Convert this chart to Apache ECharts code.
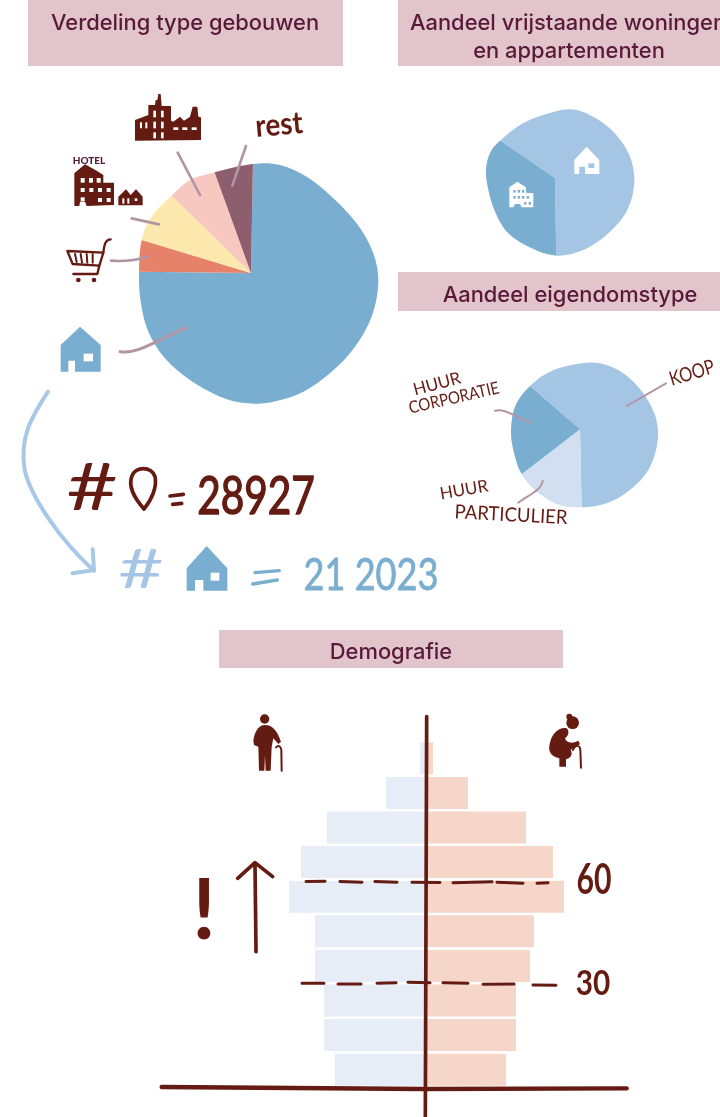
<!DOCTYPE html>
<html><head><meta charset="utf-8">
<style>html,body{margin:0;padding:0;background:#fff}#c{width:720px;height:1117px}</style>
<script src="https://cdn.jsdelivr.net/npm/echarts@6/dist/echarts.min.js"></script>
</head><body><div id="c"></div>
<script>
// ---------- data ----------
const buildingTypes = ['wonen', 'winkel', 'hotel', 'industrie', 'rest'];
const buildingShare = [74.9, 4.5, 7.6, 7.2, 5.8];
const housingTypes = ['vrijstaande woningen', 'appartementen'];
const housingShare = [65.2, 34.8];
const ownerTypes = ['koop', 'huur particulier', 'huur corporatie'];
const ownerShare = [63.3, 14.9, 21.8];
const ageGroups = ['0-9','10-19','20-29','30-39','40-49','50-59','60-69','70-79','80-89','90+'];
const menShare = [-9.1, -10.2, -10.2, -11.1, -11.1, -13.7, -12.5, -9.9, -4.0, -0.6];
const womenShare = [8.0, 9.0, 9.0, 10.4, 10.8, 13.8, 12.7, 10.0, 4.2, 0.7];
const dashes60 = [[-12,59.4],[-10.1,59.5],null,[-8.6,59.4],[-6.4,59.2],null,[-5.1,59.4],[-2.9,59.2],null,[-1.4,59.2],[1.4,59.1],null,[2.7,59],[6.6,59.3],null,[7.1,59.2],[9.7,58.9],null,[11.1,58.9],[12.2,59]];
const dashes30 = [[-12.4,30],[-10.2,30],null,[-8.8,29.8],[-6.5,29.8],null,[-4.9,30],[-3,30.1],null,[-1.8,30.3],[0.4,30.1],null,[1.7,30.1],[4.2,30],null,[5.7,29.7],[8.8,29.8],null,[10.7,29.5],[13,29.4]];

// ---------- hand-drawn outlines of the pies (zoomed drawing units) ----------
const outlineBuildings = [[637,252],[720,255],[800,290],[875,350],[950,430],[1000,520],[1015,610],[995,710],[945,800],[875,875],[790,935],[700,965],[620,970],[540,950],[450,900],[375,835],[325,755],[302,665],[297,575],[305,480],[335,410],[397,345],[450,300],[520,278]];
const outlineHousing = [[300,122],[360,75],[430,45],[510,28],[575,48],[640,95],[688,165],[703,245],[682,330],[625,400],[550,450],[470,467],[395,445],[325,400],[285,335],[264,265],[258,205],[272,155]];
const outlineOwner = [[390,858],[450,815],[530,792],[600,790],[670,820],[730,880],[768,955],[772,1030],[745,1110],[690,1170],[620,1210],[545,1222],[470,1212],[405,1170],[365,1122],[345,1070],[333,1000],[345,920]];

const DARK = '#641b12', PLUM = '#58193a', BLUE = '#7aaed0', LIGHT = '#a5c5e4', LEAD = '#b295a5', BAND = '#e2c4cb';

function blob(pts, ox, oy) {
  const n = pts.length, P = pts.map(p => [(p[0] / 3) + ox, (p[1] / 3) + oy]);
  let d = 'M' + P[0][0] + ' ' + P[0][1];
  for (let i = 0; i < n; i++) {
    const a = P[(i - 1 + n) % n], b = P[i], c = P[(i + 1) % n], e = P[(i + 2) % n];
    d += ' C' + (b[0] + (c[0] - a[0]) / 6) + ' ' + (b[1] + (c[1] - a[1]) / 6) + ' ' + (c[0] - (e[0] - b[0]) / 6) + ' ' + (c[1] - (e[1] - b[1]) / 6) + ' ' + c[0] + ' ' + c[1];
  }
  return d + ' Z';
}
function square(cx, cy, r) {
  return 'M' + (cx - r) + ' ' + (cy - r) + ' L' + (cx - r) + ' ' + (cy + r) + ' L' + (cx + r) + ' ' + (cy + r) + ' L' + (cx + r) + ' ' + (cy - r) + ' Z ';
}
const mask = (apex, r, pts, ox, oy) => ({ type: 'path', shape: { pathData: square(apex[0], apex[1], r) + blob(pts, ox, oy) }, style: { fill: '#fff' } });

const fillP = (d, fill) => ({ type: 'path', shape: { pathData: d }, style: { fill: fill } });
const line = (d, stroke, w) => ({ type: 'path', shape: { pathData: d }, style: { fill: 'none', stroke: stroke, lineWidth: w, lineCap: 'round', lineJoin: 'round' } });
const rect = (x, y, w, h, fill) => ({ type: 'rect', shape: { x, y, width: w, height: h }, style: { fill } });
const circ = (cx, cy, r, fill) => ({ type: 'circle', shape: { cx, cy, r }, style: { fill } });
const layer = (ox, oy, children) => ({ type: 'group', x: ox, y: oy, scaleX: 1 / 3, scaleY: 1 / 3, children });

function houseIcon() { return [
  fillP('M62 795 L120 740 L182 795 L182 875 L105 875 L105 842 L85 842 L85 875 L62 875 Z', BLUE),
  rect(131, 821, 28, 23, '#fff')
]; }

const layerMain = layer(40, 80, [
  // factory
  fillP('M285 182 L285 120 L325 105 L325 75 L345 75 L347 60 L352 60 L355 42 L362 42 L365 78 L393 78 L393 122 L400 125 L420 110 L432 122 L450 110 L458 80 L472 80 L475 110 L483 112 L483 180 Z', DARK),
  rect(340,92,8,20,'#fff'), rect(363,92,8,20,'#fff'), rect(340,125,8,20,'#fff'), rect(363,125,8,20,'#fff'), rect(340,157,8,18,'#fff'), rect(363,157,8,18,'#fff'),
  rect(300,127,6,18,'#fff'), rect(316,127,6,18,'#fff'), rect(400,142,15,8,'#fff'), rect(427,142,15,8,'#fff'), rect(455,142,15,8,'#fff'),
  // hotel
  fillP('M103 378 L103 280 L135 253 L170 272 L190 285 L190 308 L222 308 L222 375 L140 378 L135 365 L120 365 L118 378 Z', DARK),
  rect(122,294,12,14,'#fff'), rect(147,294,12,14,'#fff'), rect(170,294,12,14,'#fff'),
  rect(122,324,12,12,'#fff'), rect(148,324,12,12,'#fff'), rect(174,324,12,12,'#fff'), rect(200,324,12,12,'#fff'),
  rect(122,352,12,12,'#fff'), rect(174,354,12,12,'#fff'), rect(200,354,12,12,'#fff'),
  fillP('M235 376 L235 350 L258 328 L272 345 L288 328 L308 350 L308 376 Z', DARK),
  rect(247,355,6,16,'#fff'), rect(262,355,6,16,'#fff'), rect(284,355,8,8,'#fff'),
  // cart
  line('M82 513 L190 518 L178 557 L98 552 Z', DARK, 7),
  line('M105 522 L110 546 M122 522 L126 548 M140 522 L142 548 M158 522 L158 548', DARK, 6),
  line('M190 518 C193 490 198 478 212 478 M178 557 L172 582 L100 582', DARK, 7),
  circ(115, 600, 7, DARK), circ(162, 600, 7, DARK),
  // house
  ...houseIcon(),
  // leader lines
  line('M618 198 L577 317', LEAD, 8),
  line('M413 218 L480 345', LEAD, 8),
  line('M275 415 L357 433', LEAD, 8),
  line('M213 542 C250 545 290 540 325 530', LEAD, 8),
  line('M240 815 C290 825 350 780 440 743', LEAD, 9),
]);

const layerPies = layer(400, 100, [
  fillP('M523 180 L560 140 L598 180 L598 222 L555 222 L555 200 L538 200 L538 222 L523 222 Z', '#fff'),
  rect(565, 190, 18, 14, LIGHT),
  fillP('M328 322 L328 262 L352 245 L378 262 L378 278 L400 280 L400 322 L365 322 L360 312 L345 312 L340 322 Z', '#fff'),
  ...[340,353,366].map(x => rect(x, 270, 7, 8, BLUE)),
  ...[340,353,366,380].map(x => rect(x, 288, 7, 8, BLUE)),
  ...[372,386].map(x => rect(x, 306, 7, 8, BLUE)),
  line('M798 850 L680 918', LEAD, 6),
  line('M285 932 C310 925 340 945 392 968', LEAD, 6),
  line('M428 1143 C425 1170 385 1185 355 1208', LEAD, 6),
]);

const layerCounts = layer(20, 440, [
  // arrow
  line('M84 -145 C35 -70 -2 -10 14 90 C32 170 120 300 222 392', '#a8c8e8', 12),
  line('M158 400 L222 390 L218 328', '#a8c8e8', 12),
  // pin
  line('M372 207 C340 170 325 140 335 110 C345 78 395 78 405 110 C412 140 395 180 372 207 Z', DARK, 11),
  // = signs
  line('M450 168 L490 163 M458 193 L485 190', DARK, 11),
  line('M698 432 L772 420 M705 398 L778 392', BLUE, 10),
  // house
  fillP('M500 385 L560 318 L622 385 L622 452 L550 452 L550 420 L525 420 L525 452 L500 452 Z', BLUE),
  rect(572, 398, 26, 24, '#fff'),
]);

const layerDemo = layer(150, 700, [
  // axes
  line('M35 1161 L820 1167 L1430 1165', DARK, 13),
  line('M830 50 L826 1250', DARK, 11),
  // arrow up
  line('M318 755 L315 490 M263 535 L315 488 L368 530', DARK, 11),
  // man
  circ(344, 57, 14, DARK),
  fillP('M310 122 C315 88 330 75 345 75 C365 75 380 88 393 125 L385 132 L370 115 L365 140 L362 212 L347 212 L345 165 L343 212 L327 212 L325 140 L312 135 Z', DARK),
  line('M378 142 C385 135 393 138 394 150 L395 212', DARK, 6),
  // woman
  circ(1268, 68, 19, DARK), circ(1258, 50, 9, DARK),
  fillP('M1198 138 C1203 100 1228 80 1250 85 C1260 95 1255 108 1245 115 C1250 132 1270 130 1285 122 L1290 133 C1270 145 1262 148 1262 150 C1270 165 1260 175 1248 178 L1248 200 L1228 200 L1228 175 C1205 170 1195 155 1198 138 Z', DARK),
  line('M1268 150 C1277 132 1290 135 1291 150 L1293 203', DARK, 6),
]);

// ---------- text ----------
const TITLE = 'Inter, sans-serif', HAND = 'Lato, sans-serif';
function T(text, x, y, size, fill, o) {
  o = o || {};
  const style = { text, fill, font: (o.weight || 400) + ' ' + size + 'px ' + (o.font || HAND), textAlign: o.align || 'center', textVerticalAlign: 'middle', align: o.align || 'center', verticalAlign: 'middle' };
  if (o.bold) { style.stroke = fill; style.lineWidth = o.bold; }
  return { type: 'text', x, y, z: 100, rotation: (o.rot || 0) * Math.PI / 180, scaleX: o.sx || 1, silent: true, style };
}
const B = (x, y, w, h) => ({ type: 'rect', z: 99, silent: true, shape: { x, y, width: w, height: h }, style: { fill: BAND } });

const texts = [
  B(28, 0, 315, 66), B(398, 0, 322, 66), B(398, 272, 322, 39), B(219, 630, 344, 38),
  T('Verdeling type gebouwen', 185, 23, 21.9, PLUM, { font: TITLE, weight: 500 }),
  T('Aandeel vrijstaande woningen', 410, 23, 21.9, PLUM, { font: TITLE, align: 'left', weight: 500 }),
  T('en appartementen', 569, 51, 21.9, PLUM, { font: TITLE, weight: 500 }),
  T('Aandeel eigendomstype', 570, 295, 21.9, PLUM, { font: TITLE, weight: 500 }),
  T('Demografie', 391, 652, 21.9, PLUM, { font: TITLE, weight: 500 }),
  T('rest', 279, 125, 31, DARK, { rot: 5, sx: 0.9, weight: 700 }),
  T('HOTEL', 89, 161, 10, PLUM, { weight: 900 }),
  T('KOOP', 692, 373, 20, DARK, { rot: 17, sx: 0.82 }),
  T('HUUR', 437, 384, 17, DARK, { rot: 15 }),
  T('CORPORATIE', 454, 398, 17, DARK, { rot: 13, sx: 0.88 }),
  T('HUUR', 464, 490, 17, DARK, { rot: 10 }),
  T('PARTICULIER', 511, 515, 19.5, DARK, { rot: -3, sx: 0.95 }),
  T('#', 92, 489, 66, DARK, { sx: 1.35 }),
  T('28927', 256, 497, 52, DARK, { sx: 0.78, bold: 1.4 }),
  T('#', 141, 571, 54, LIGHT, { sx: 1.45 }),
  T('21 2023', 371, 576, 44, BLUE, { sx: 0.82, bold: 0.8 }),
  T('!', 204, 912, 84, DARK, { weight: 700 }),
  T('60', 594, 880, 42, DARK, { sx: 0.72, weight: 700 }),
  T('30', 593, 984, 35, DARK, { sx: 0.85, weight: 700 }),
];

const pieBase = { type: 'pie', silent: true, z: 2, clockwise: true, label: { show: false }, labelLine: { show: false }, emphasis: { disabled: true } };
const toData = (names, vals, colors) => names.map((n, i) => ({ name: n, value: vals[i], itemStyle: { color: colors[i] } }));
const deco = (z, children) => ({ type: 'custom', coordinateSystem: 'none', silent: true, z, data: [0], renderItem: () => ({ type: 'group', children }) });

const chart = echarts.init(document.getElementById('c'), null, { renderer: 'canvas' });
chart.setOption({
  animation: false,
  backgroundColor: '#fff',
  grid: { left: 161, right: 93, top: 741, bottom: 30 },
  xAxis: { type: 'value', min: -26.5, max: 20.1, show: false },
  yAxis: [
    { type: 'category', data: ageGroups, show: false },
    { type: 'value', min: 0, max: 100, show: false }
  ],
  graphic: { elements: texts },
  series: [
    { ...pieBase, center: [251, 273], radius: 134, startAngle: 89, data: toData(buildingTypes, buildingShare, [BLUE, '#e6826a', '#fde8ae', '#f7c8bf', '#8c5e6e']) },
    { ...pieBase, center: [555, 178], radius: 86, startAngle: 145.6, data: toData(housingTypes, housingShare, [LIGHT, BLUE]) },
    { ...pieBase, center: [580, 429.3], radius: 86, startAngle: 139.1, data: toData(ownerTypes, ownerShare, [LIGHT, '#d2dff0', BLUE]) },
    { type: 'bar', name: 'mannen', data: menShare, barWidth: 32, barGap: '-100%', silent: true, itemStyle: { color: '#e6edf7' } },
    { type: 'bar', name: 'vrouwen', data: womenShare, barWidth: 32, barGap: '-100%', silent: true, itemStyle: { color: '#f7d6ca' } },
    deco(3, [
      mask([251, 273], 136, outlineBuildings, 40, 80),
      mask([555, 178], 88, outlineHousing, 400, 100),
      mask([580, 429.3], 88, outlineOwner, 400, 100)
    ]),
    deco(4, [layerMain, layerPies, layerCounts, layerDemo]),
    { type: 'line', yAxisIndex: 1, z: 5, silent: true, data: dashes60, symbol: 'none', lineStyle: { color: DARK, width: 3, cap: 'round' } },
    { type: 'line', yAxisIndex: 1, z: 5, silent: true, data: dashes30, symbol: 'none', lineStyle: { color: DARK, width: 3, cap: 'round' } },
  ]
});
</script></body></html>
